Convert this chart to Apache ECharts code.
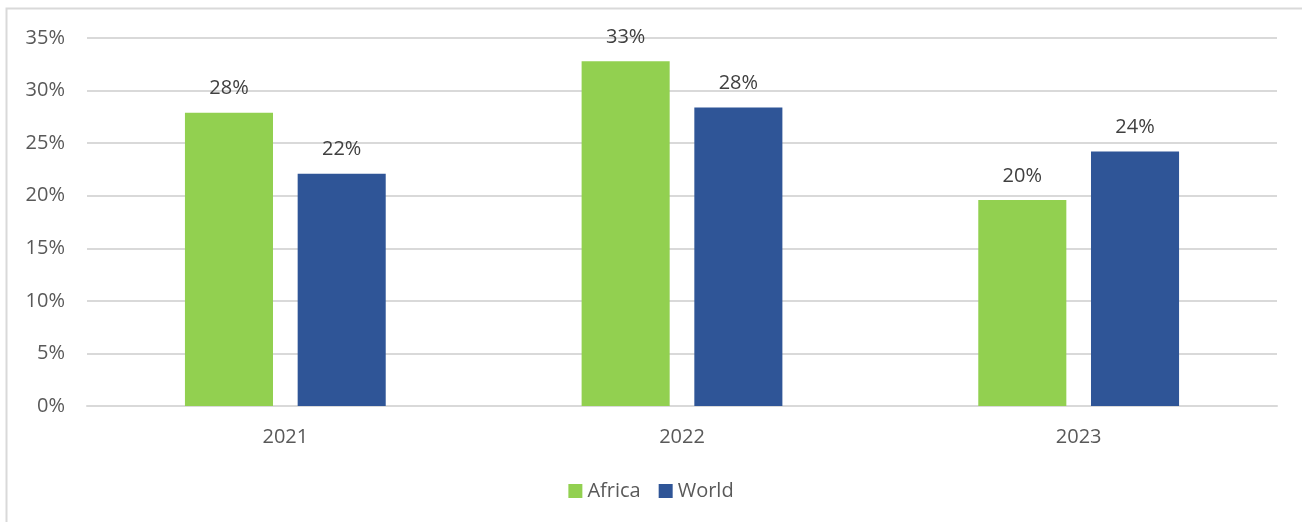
<!DOCTYPE html>
<html>
<head>
<meta charset="utf-8">
<script src="https://cdn.jsdelivr.net/npm/echarts@6/dist/echarts.min.js"></script>
<style>
  html, body { margin: 0; padding: 0; background: #fff; }
  #main { width: 1302px; height: 522px; }
</style>
</head>
<body>
<div id="main"></div>
<script>
var years = ["2021", "2022", "2023"];
var africa = [27.9, 32.8, 19.6];
var world = [22.1, 28.4, 24.2];
var yTicks = [0, 5, 10, 15, 20, 25, 30, 35];

var myChart = echarts.init(document.getElementById("main"));
var font = "'Open Sans', 'DejaVu Sans', sans-serif";
var textColor = "#595959";

function barLabel() {
  return {
    show: true,
    position: "top",
    distance: 14,
    color: "#404040",
    fontSize: 20,
    fontFamily: font,
    formatter: function (p) {
      return Math.round(p.value) + "%";
    }
  };
}

var option = {
  animation: false,
  textStyle: { fontFamily: font },
  graphic: [
    {
      type: "rect",
      shape: { x: 6.5, y: 8.5, width: 1310, height: 530 },
      style: { fill: "none", stroke: "#d9d9d9", lineWidth: 2 },
      silent: true
    }
  ],
  grid: { left: 87, right: 25, top: 38, bottom: 116 },
  legend: {
    bottom: 16,
    left: "center",
    itemWidth: 14,
    itemHeight: 14,
    itemGap: 18,
    icon: "rect",
    textStyle: { color: textColor, fontSize: 20, fontFamily: font },
    data: ["Africa", "World"]
  },
  xAxis: {
    type: "category",
    data: years,
    axisLine: { lineStyle: { color: "#d9d9d9", width: 2 } },
    axisTick: { show: false },
    axisLabel: { color: textColor, fontSize: 20, margin: 21, fontFamily: font }
  },
  yAxis: {
    type: "value",
    min: yTicks[0],
    max: yTicks[yTicks.length - 1],
    interval: 5,
    axisLine: { show: false },
    axisTick: { show: false },
    splitLine: { lineStyle: { color: "#d9d9d9", width: 2 } },
    axisLabel: {
      color: textColor,
      fontSize: 20,
      margin: 22,
      fontFamily: font,
      formatter: "{value}%"
    }
  },
  series: [
    {
      name: "Africa",
      type: "bar",
      data: africa,
      barWidth: "22.2%",
      barGap: "28%",
      itemStyle: { color: "#92d050" },
      label: barLabel()
    },
    {
      name: "World",
      type: "bar",
      data: world,
      barWidth: "22.2%",
      itemStyle: { color: "#2f5597" },
      label: barLabel()
    }
  ]
};

myChart.setOption(option);
</script>
</body>
</html>
